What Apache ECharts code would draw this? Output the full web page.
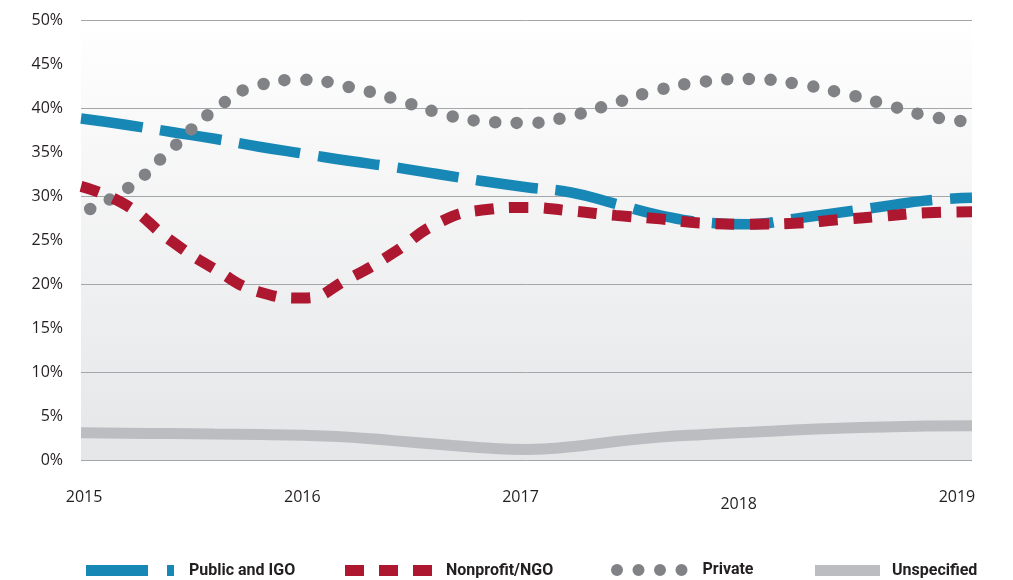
<!DOCTYPE html>
<html>
<head>
<meta charset="utf-8">
<script src="https://cdn.jsdelivr.net/npm/echarts@6/dist/echarts.min.js"></script>
<style>
  html, body { margin: 0; padding: 0; background: #fff; }
  #chart { width: 1013px; height: 580px; }
</style>
</head>
<body>
<div id="chart"></div>
<script>
// sample points along the year axis (every 0.2 year)
var sampleYears = [2015, 2015.2, 2015.4, 2015.6, 2015.8, 2016, 2016.2, 2016.4, 2016.6, 2016.8,
  2017, 2017.2, 2017.4, 2017.6, 2017.8, 2018, 2018.2, 2018.4, 2018.6, 2018.8, 2019]
var tickYears = [2015, 2016, 2017, 2018, 2019]
var yTicks = [0, 5, 10, 15, 20, 25, 30, 35, 40, 45, 50]

var seriesNames = ['Public and IGO', 'Nonprofit/NGO', 'Private', 'Unspecified']
var publicIgo = [38.8, 38.1, 37.3, 36.5, 35.6, 34.8, 34.0, 33.3, 32.5, 31.7,
  31.0, 30.4, 29.1, 27.8, 27.0, 26.8, 27.4, 28.1, 28.8, 29.5, 29.8]
var nonprofit = [31.1, 29.0, 25.0, 21.7, 19.1, 18.4, 20.6, 23.5, 26.9, 28.4,
  28.7, 28.3, 27.8, 27.4, 26.9, 26.8, 26.9, 27.3, 27.7, 28.1, 28.2]
var privateSector = [28.1, 30.7, 35.2, 39.8, 42.6, 43.2, 42.4, 41.1, 39.5, 38.5,
  38.3, 39.1, 40.6, 42.1, 43.0, 43.3, 42.8, 41.8, 40.5, 39.1, 38.4]
var unspecified = [3.1, 3.05, 3.0, 2.95, 2.9, 2.8, 2.6, 2.2, 1.8, 1.4,
  1.2, 1.5, 2.1, 2.6, 2.9, 3.15, 3.4, 3.6, 3.75, 3.85, 3.9]

function pairs(values) {
  return values.map(function (v, i) { return [sampleYears[i], v] })
}

var labelFont = "'Open Sans', sans-serif"

// legend swatches drawn as paths so they look like the line patterns
var dotPath = 'M0,6A6,6 0 1,1 12,6A6,6 0 1,1 0,6Z M21.5,6A6,6 0 1,1 33.5,6A6,6 0 1,1 21.5,6Z ' +
  'M43,6A6,6 0 1,1 55,6A6,6 0 1,1 43,6Z M64.5,6A6,6 0 1,1 76.5,6A6,6 0 1,1 64.5,6Z'

function legendItem(name, icon, left, width, height, textPad) {
  return {
    data: [{ name: name, icon: icon }],
    left: left,
    top: 568 - height / 2,
    padding: 0,
    itemWidth: width,
    itemHeight: height,
    symbolKeepAspect: false,
    selectedMode: false,
    textStyle: {
      fontFamily: 'Roboto, sans-serif',
      fontSize: 16,
      fontWeight: 'bold',
      color: '#231f20',
      padding: [0, 0, 0, textPad]
    }
  }
}

var option = {
  animation: false,
  backgroundColor: '#ffffff',
  grid: {
    left: 81,
    right: 41,
    top: 20,
    bottom: 120,
    show: true,
    borderWidth: 0,
    backgroundColor: new echarts.graphic.LinearGradient(0, 0, 0, 1, [
      { offset: 0, color: '#ffffff' },
      { offset: 0.07, color: '#fdfdfd' },
      { offset: 1, color: '#e5e6e8' }
    ])
  },
  legend: [
    legendItem('Public and IGO', 'path://M0,0H62V11H0Z M81,0H88V11H81Z', 86, 88, 11, 10),
    legendItem('Nonprofit/NGO', 'path://M0,0H19V11H0Z M34,0H53V11H34Z M68,0H87V11H68Z', 345, 87, 11, 9),
    legendItem('Private', 'path://' + dotPath, 611, 76.5, 12, 10),
    legendItem('Unspecified', 'path://M0,0H65V11H0Z', 815, 65, 11, 7)
  ],
  xAxis: [{
    type: 'value',
    min: 2015,
    max: 2019,
    show: false
  }, {
    type: 'value',
    min: 2014.986,
    max: 2019.069,
    position: 'bottom',
    axisLine: { show: false },
    axisTick: { show: false },
    splitLine: { show: false },
    axisLabel: {
      customValues: tickYears,
      margin: 29,
      fontFamily: labelFont,
      fontSize: 16,
      color: '#231f20',
      formatter: function (v) {
        return v === 2018 ? '{low|2018}' : String(v)
      },
      rich: {
        low: { fontFamily: labelFont, fontSize: 16, color: '#231f20', padding: [7, 0, 0, 0] }
      }
    }
  }],
  yAxis: [{
    type: 'value',
    min: 0,
    max: 50,
    interval: 5,
    position: 'left',
    axisLine: { show: false },
    axisTick: { show: false },
    splitLine: { show: false },
    axisLabel: {
      customValues: yTicks,
      margin: 18,
      fontFamily: labelFont,
      fontSize: 16,
      color: '#231f20',
      formatter: '{value}%'
    }
  }, {
    type: 'value',
    min: 0,
    max: 50,
    interval: 10,
    position: 'left',
    axisLine: { show: false },
    axisTick: { show: false },
    axisLabel: { show: false },
    splitLine: { lineStyle: { color: '#a4a6a9', width: 1 } }
  }],
  series: [{
    name: seriesNames[3],
    type: 'line',
    smooth: true,
    symbol: 'none',
    z: 2,
    data: pairs(unspecified),
    lineStyle: { color: '#bcbdc0', width: 11, cap: 'butt' },
    itemStyle: { color: '#bcbdc0' }
  }, {
    name: seriesNames[0],
    type: 'line',
    smooth: true,
    symbol: 'none',
    z: 3,
    data: pairs(publicIgo),
    lineStyle: { color: '#1787b5', width: 10.5, type: [62, 18], cap: 'butt' },
    itemStyle: { color: '#1787b5' }
  }, {
    name: seriesNames[2],
    type: 'line',
    smooth: true,
    symbol: 'none',
    z: 4,
    data: pairs(privateSector),
    lineStyle: { color: '#808285', width: 12.5, type: [0, 21.6], dashOffset: 11.6, cap: 'round' },
    itemStyle: { color: '#808285' }
  }, {
    name: seriesNames[1],
    type: 'line',
    smooth: true,
    symbol: 'none',
    z: 5,
    data: pairs(nonprofit),
    lineStyle: { color: '#ad1730', width: 11, type: [19, 15.5], cap: 'butt' },
    itemStyle: { color: '#ad1730' }
  }]
}

var chart = echarts.init(document.getElementById('chart'))
chart.setOption(option, true)
</script>
</body>
</html>
